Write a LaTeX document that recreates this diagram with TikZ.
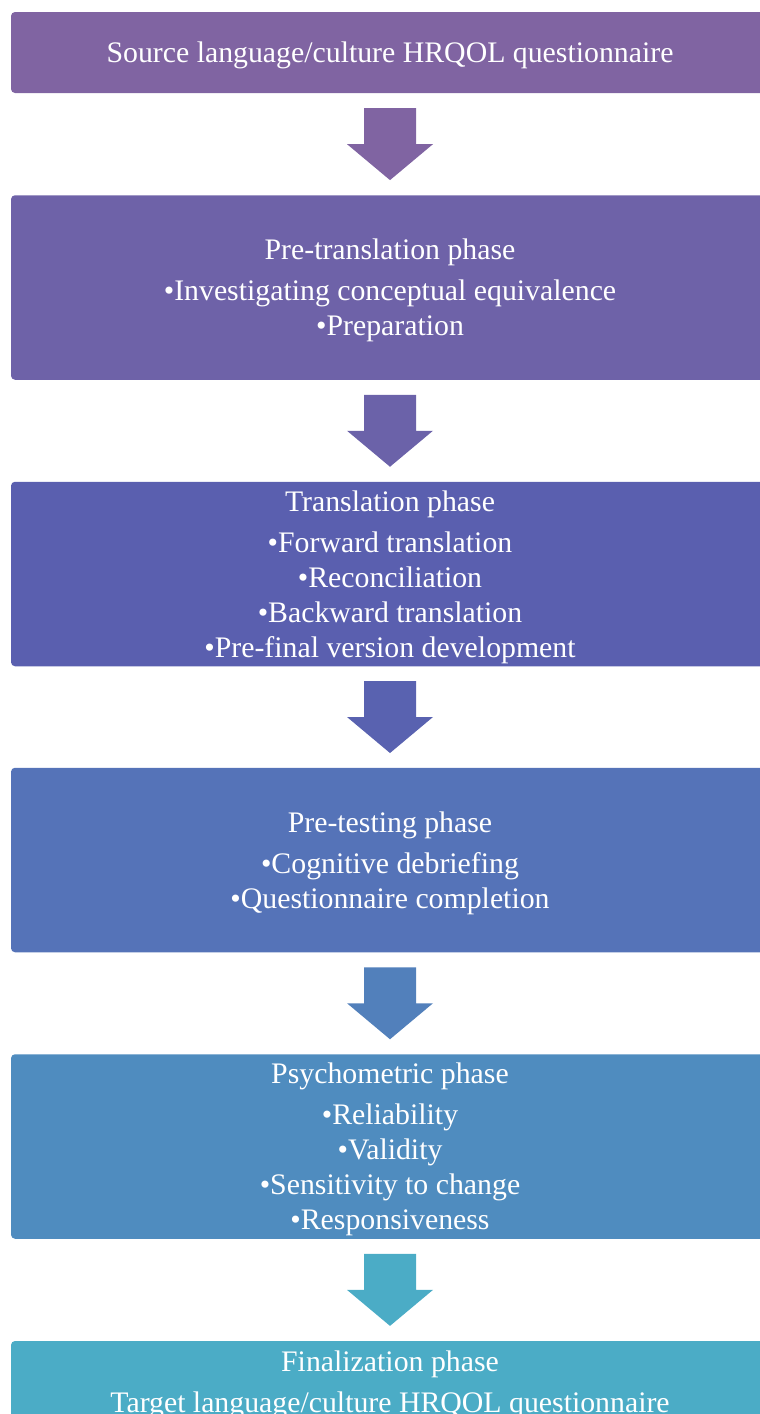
\documentclass[tikz,border=0pt]{standalone}
\usepackage{fontspec}
\setmainfont{Liberation Serif}
\usetikzlibrary{calc}
\definecolor{phasesrc}{HTML}{8064A2}
\definecolor{phasepre}{HTML}{6E62A8}
\definecolor{phasetra}{HTML}{5A5FAF}
\definecolor{phasetest}{HTML}{5573B8}
\definecolor{phasepsy}{HTML}{4F8CBF}
\definecolor{phasefin}{HTML}{4BACC6}
\tikzset{phasebox/.style={rectangle, rounded corners=2pt, fill=#1, text=white, minimum width=379pt, minimum height=92.25pt, inner sep=0pt, align=center, font=\fontsize{14.9}{17.5}\selectfont}}
\def\phasestrut{\rule{0pt}{13.2pt}}
\def\phasearrow(#1)(#2)[#3]{\fill[#3] ($(#1.south)!0.5!(#2.north)+(-26,-36)$) -- ++(52,0) -- ++(0,36) -- ++(17,0) -- ++(-43,36) -- ++(-43,-36) -- ++(17,0) -- cycle;}
\begin{document}
\begin{tikzpicture}[x=0.5pt, y=-0.5pt]
			%%%%% START %%%%%
			
			\useasboundingbox (0, 0) rectangle (760, 1414);
			\clip (0, 0) rectangle (760, 1414);
			
			\node[phasebox=phasesrc, minimum height=40.5pt] (src) at (390, 52.5) {\phasestrut Source language/culture HRQOL questionnaire};
			\node[phasebox=phasepre] (pretrans) at (390, 287.5) {\phasestrut Pre-translation phase\\[3pt] •Investigating conceptual equivalence\\ •Preparation};
			\node[phasebox=phasetra] (trans) at (390, 574) {\phasestrut Translation phase\\[3pt] •Forward translation\\ •Reconciliation\\ •Backward translation\\ •Pre-final version development};
			\node[phasebox=phasetest] (pretest) at (390, 860) {\phasestrut Pre-testing phase\\[3pt] •Cognitive debriefing\\ •Questionnaire completion};
			\node[phasebox=phasepsy] (psycho) at (390, 1146.5) {\phasestrut Psychometric phase\\[3pt] •Reliability\\ •Validity\\ •Sensitivity to change\\ •Responsiveness};
			\node[phasebox=phasefin, minimum height=40.5pt] (final) at (390, 1381.5) {\phasestrut Finalization phase\\[3pt] Target language/culture HRQOL questionnaire};
			
			\phasearrow(src)(pretrans)[phasesrc]
			\phasearrow(pretrans)(trans)[phasepre!85!phasetra]
			\phasearrow(trans)(pretest)[phasetra!85!phasetest]
			\phasearrow(pretest)(psycho)[phasetest!50!phasepsy]
			\phasearrow(psycho)(final)[phasefin]
			
			%%%%% END %%%%%
\end{tikzpicture}
\end{document}
